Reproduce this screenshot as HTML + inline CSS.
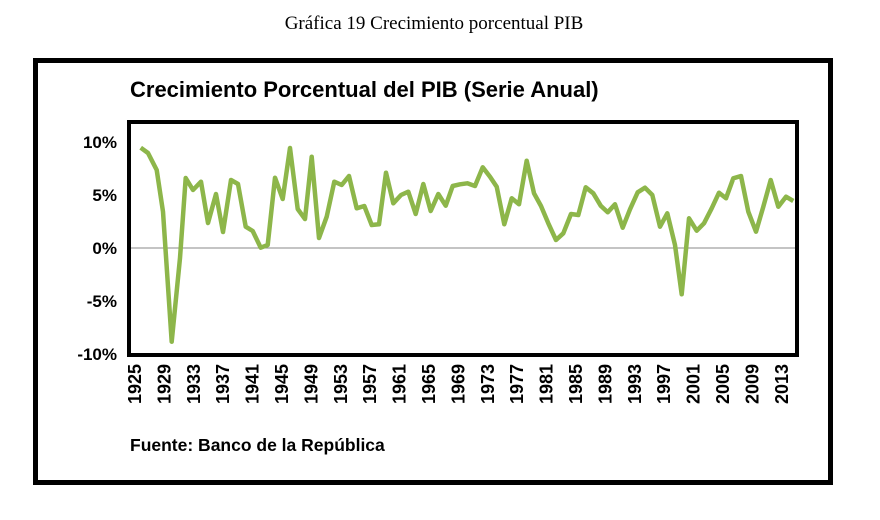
<!DOCTYPE html>
<html><head><meta charset="utf-8"><style>
body{margin:0;background:#fff;width:880px;height:515px;overflow:hidden}
</style></head><body>
<svg width="880" height="515" xmlns="http://www.w3.org/2000/svg">
<text x="434" y="29" text-anchor="middle" font-family="Liberation Serif, serif" font-size="19">Gráfica 19 Crecimiento porcentual PIB</text>
<rect x="35.5" y="60.5" width="795" height="422" fill="none" stroke="#000" stroke-width="5"/>
<text x="130" y="97" font-family="Liberation Sans, sans-serif" font-weight="bold" font-size="22">Crecimiento Porcentual del PIB (Serie Anual)</text>
<line x1="129" y1="248" x2="797" y2="248" stroke="#888" stroke-width="1"/>
<rect x="129" y="122" width="668" height="233" fill="none" stroke="#000" stroke-width="4"/>
<g font-family="Liberation Sans, sans-serif" font-weight="bold" font-size="17" text-anchor="end">
<text x="117" y="148">10%</text><text x="117" y="201">5%</text><text x="117" y="254">0%</text><text x="117" y="307">-5%</text><text x="117" y="360">-10%</text>
</g>
<polyline fill="none" stroke="#8db64a" stroke-width="4.5" stroke-linejoin="round" points="140.7,147.7 148,153 156.7,170 163,211.7 171.7,341.7 180,258 185.7,178 193,190 201,181.7 208,223 216,194 223,232 231,180 238,184 245.7,226.7 252.7,231 260.7,247.7 267.7,245 275,177.7 282.7,199 290,148 297.7,209 305,219 311.7,156.7 319,238 326.7,216.7 334.3,181.7 341.7,185 349,176 356.7,208.3 364.3,206 371.7,225 379,224.3 386,172.7 393.3,203.3 401,195 408.3,191.7 415.7,214 423.3,184 430.7,211 438.3,194 445.7,205.7 452.7,186 460,184.3 467.3,183.3 475,186 482.7,167.3 490,176.7 496.7,186.7 504.3,224.3 511.7,198.3 519,204.3 526.7,160.7 534,193.3 541,206 548.3,223.3 556,240 563.3,233.3 571,214 578.3,215 585.7,187.3 593.3,193.3 600.7,205.7 607.7,212.3 615,204.3 622.7,227.7 630,209.3 637.7,192.3 645,187.7 652.3,195 660,226.7 667.3,213.3 675,245 681.7,294.3 689,218.3 696.7,230.7 704,223.3 711.7,208.3 719,192.7 726,198.3 733.3,178.3 741,176 748.3,211.7 756,231.7 763.3,206.7 770.7,180 778.3,206.7 786,196.7 793.3,201"/>
<g font-family="Liberation Sans, sans-serif" font-weight="bold" font-size="18">
<text transform="translate(141,404) rotate(-90)">1925</text>
<text transform="translate(170.4,404) rotate(-90)">1929</text>
<text transform="translate(199.8,404) rotate(-90)">1933</text>
<text transform="translate(229.2,404) rotate(-90)">1937</text>
<text transform="translate(258.6,404) rotate(-90)">1941</text>
<text transform="translate(288,404) rotate(-90)">1945</text>
<text transform="translate(317.4,404) rotate(-90)">1949</text>
<text transform="translate(346.8,404) rotate(-90)">1953</text>
<text transform="translate(376.2,404) rotate(-90)">1957</text>
<text transform="translate(405.6,404) rotate(-90)">1961</text>
<text transform="translate(435,404) rotate(-90)">1965</text>
<text transform="translate(464.4,404) rotate(-90)">1969</text>
<text transform="translate(493.8,404) rotate(-90)">1973</text>
<text transform="translate(523.2,404) rotate(-90)">1977</text>
<text transform="translate(552.6,404) rotate(-90)">1981</text>
<text transform="translate(582,404) rotate(-90)">1985</text>
<text transform="translate(611.4,404) rotate(-90)">1989</text>
<text transform="translate(640.8,404) rotate(-90)">1993</text>
<text transform="translate(670.2,404) rotate(-90)">1997</text>
<text transform="translate(699.6,404) rotate(-90)">2001</text>
<text transform="translate(729,404) rotate(-90)">2005</text>
<text transform="translate(758.4,404) rotate(-90)">2009</text>
<text transform="translate(787.8,404) rotate(-90)">2013</text>
</g>
<text x="130" y="451" font-family="Liberation Sans, sans-serif" font-weight="bold" font-size="17.5">Fuente: Banco de la República</text>
</svg>
</body></html>
